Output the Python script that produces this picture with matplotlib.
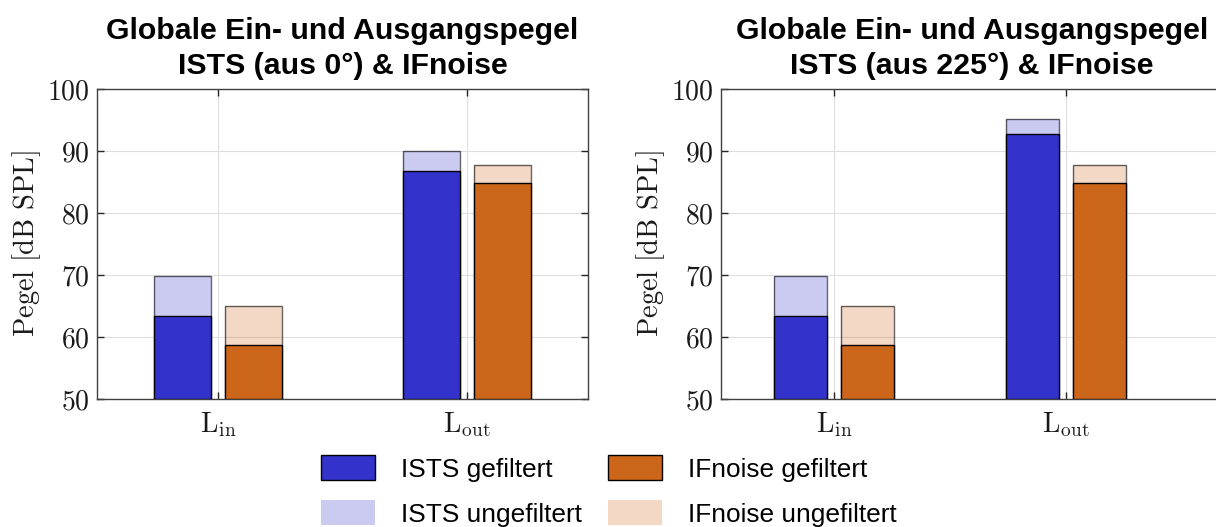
import numpy as np
import matplotlib
matplotlib.use("Agg")
import matplotlib.pyplot as plt

plt.rcParams["mathtext.fontset"] = "cm"
plt.rcParams["font.family"] = ["Liberation Sans", "DejaVu Sans"]

# Pegelwerte in dB SPL, Reihenfolge der Gruppen: L_in, L_out
categories = [r"$\mathrm{L_{in}}$", r"$\mathrm{L_{out}}$"]
ists_filt_0 = [63.4, 86.7]
ists_unfilt_0 = [69.9, 90.0]
ists_filt_225 = [63.4, 92.8]
ists_unfilt_225 = [69.9, 95.2]
ifnoise_filt = [58.7, 84.9]
ifnoise_unfilt = [65.0, 87.8]
yticks = [50, 60, 70, 80, 90, 100]

titles = ["Globale Ein- und Ausgangspegel\nISTS (aus 0°) & IFnoise",
          "Globale Ein- und Ausgangspegel\nISTS (aus 225°) & IFnoise"]

blue = (0.2, 0.2, 0.8)
orange = (0.8, 0.4, 0.1)

fig = plt.figure(figsize=(12.16, 5.27), dpi=100)
W, H = 1216, 527
ax1 = fig.add_axes([97 / W, 128 / H, 491 / W, 310 / H])
ax2 = fig.add_axes([721 / W, 128 / H, 502 / W, 310 / H])

x = np.arange(1, len(categories) + 1)
bw = 0.229
off = 0.143

def draw(ax, ists_f, ists_u, title, xlim):
    ax.set_axisbelow(True)
    hu1 = ax.bar(x - off, np.array(ists_u) - 50, bw, bottom=50,
                 color=blue, alpha=0.25, edgecolor="none", zorder=2)
    ax.bar(x - off, np.array(ists_u) - 50, bw, bottom=50,
           facecolor="none", edgecolor=(0, 0, 0, 0.6), linewidth=1.0, zorder=2)
    hu2 = ax.bar(x + off, np.array(ifnoise_unfilt) - 50, bw, bottom=50,
                 color=orange, alpha=0.25, edgecolor="none", zorder=2)
    ax.bar(x + off, np.array(ifnoise_unfilt) - 50, bw, bottom=50,
           facecolor="none", edgecolor=(0, 0, 0, 0.6), linewidth=1.0, zorder=2)
    hf1 = ax.bar(x - off, np.array(ists_f) - 50, bw, bottom=50,
                 color=blue, edgecolor="black", linewidth=1.0, zorder=3)
    hf2 = ax.bar(x + off, np.array(ifnoise_filt) - 50, bw, bottom=50,
                 color=orange, edgecolor="black", linewidth=1.0, zorder=3)
    ax.set_ylim(50, 100)
    ax.set_xlim(*xlim)
    ax.set_yticks(yticks)
    ax.set_yticklabels([f"${v}$" for v in yticks])
    ax.set_xticks(x)
    ax.set_xticklabels(categories)
    ax.tick_params(direction="in", length=5, width=1, colors="0.15",
                   top=True, right=True, labelsize=20, labelcolor="0.1")
    ax.tick_params(axis="y", pad=5)
    ax.tick_params(axis="x", pad=8)
    ax.grid(True, color="0.87", linewidth=0.8)
    for s in ax.spines.values():
        s.set_color("0.25")
        s.set_linewidth(1.0)
    ax.set_ylabel(r"$\mathrm{Pegel\ [dB\ SPL]}$", fontsize=20.5, color="0.1",
                  labelpad=3)
    ax.set_title(title, fontsize=21.8, fontweight="bold", pad=10.5,
                 linespacing=1.35)
    return hf1, hu1, hf2, hu2

handles = draw(ax1, ists_filt_0, ists_unfilt_0, titles[0], (0.514, 2.486))
draw(ax2, ists_filt_225, ists_unfilt_225, titles[1], (0.513, 2.677))

labels = ["ISTS gefiltert", "ISTS ungefiltert",
          "IFnoise gefiltert", "IFnoise ungefiltert"]
leg = fig.legend(handles, labels, ncol=2, loc="center",
                 bbox_to_anchor=(609 / W, 1 - 491 / H), frameon=False,
                 fontsize=18.9, handlelength=2.05, handleheight=1.08,
                 columnspacing=1.0, handletextpad=1.0, labelspacing=0.72,
                 borderpad=0.0, borderaxespad=0.0)

fig.savefig("out.png", dpi=100)
